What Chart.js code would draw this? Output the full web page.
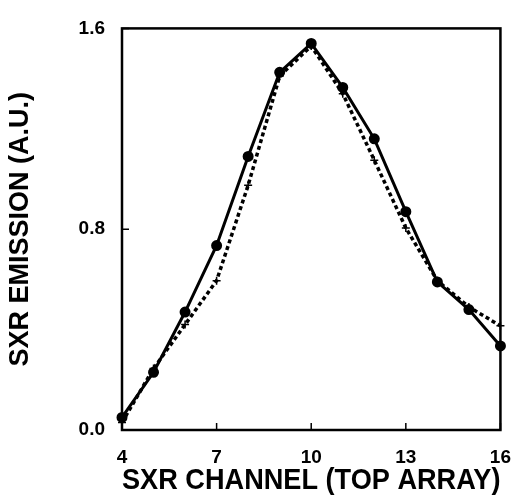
<!DOCTYPE html>
<html>
<head>
<meta charset="utf-8">
<script src="https://cdn.jsdelivr.net/npm/chart.js@4/dist/chart.umd.min.js"></script>
<style>
  html, body { margin: 0; padding: 0; background: #fff; }
  #wrap { width: 527px; height: 501px; }
</style>
</head>
<body>
<div id="wrap"><canvas id="sxr" width="527" height="501"></canvas></div>
<script>
const channels = [4, 5, 6, 7, 8, 9, 10, 11, 12, 13, 14, 15, 16];
// measured emission (solid, dots)
const measured = [0.05, 0.23, 0.47, 0.735, 1.09, 1.425, 1.54, 1.365, 1.16, 0.87, 0.59, 0.48, 0.335];
// reconstructed emission (dashed, crosses)
const fitted = [0.03, 0.245, 0.42, 0.595, 0.975, 1.41, 1.53, 1.34, 1.075, 0.805, 0.595, 0.49, 0.415];
const xTicks = [4, 7, 10, 13, 16];
const yTicks = [0.0, 0.8, 1.6];

const toPoints = vals => channels.map((c, i) => ({ x: c, y: vals[i] }));

// full box around the plot and short inward tick marks
const frame = {
  id: 'frame',
  afterDraw(chart) {
    const { ctx, chartArea: a, scales } = chart;
    ctx.save();
    ctx.strokeStyle = '#000';
    ctx.lineWidth = 2.5;
    ctx.strokeRect(a.left, a.top, a.right - a.left, a.bottom - a.top);
    ctx.lineWidth = 1.5;
    ctx.beginPath();
    xTicks.forEach(v => {
      const px = scales.x.getPixelForValue(v);
      ctx.moveTo(px, a.bottom);
      ctx.lineTo(px, a.bottom - 7);
    });
    yTicks.forEach(v => {
      const py = scales.y.getPixelForValue(v);
      ctx.moveTo(a.left, py);
      ctx.lineTo(a.left + 7, py);
    });
    ctx.stroke();
    ctx.restore();
  }
};

new Chart(document.getElementById('sxr'), {
  type: 'line',
  data: {
    datasets: [
      {
        data: toPoints(measured),
        borderColor: '#000',
        backgroundColor: '#000',
        borderWidth: 3,
        pointRadius: 4,
        pointStyle: 'circle',
        tension: 0
      },
      {
        data: toPoints(fitted),
        borderColor: '#000',
        backgroundColor: '#000',
        borderWidth: 3.5,
        borderDash: [4, 3],
        pointRadius: 4,
        pointStyle: 'cross',
        pointBorderWidth: 1.5,
        tension: 0
      }
    ]
  },
  options: {
    responsive: false,
    animation: false,
    clip: false,
    layout: { padding: { left: 0, top: 18, right: 25, bottom: 0 } },
    plugins: { legend: { display: false }, tooltip: { enabled: false } },
    scales: {
      x: {
        type: 'linear',
        min: 4,
        max: 16,
        afterBuildTicks: s => { s.ticks = xTicks.map(v => ({ value: v })); },
        afterFit: s => { s.height = 71; },
        grid: { display: false, drawTicks: false },
        border: { display: false },
        ticks: {
          padding: 16,
          color: '#000',
          font: { family: 'Liberation Sans', size: 19, weight: 'bold' }
        },
        title: {
          display: true,
          text: 'SXR CHANNEL (TOP ARRAY)',
          color: '#000',
          padding: { top: 0, bottom: 2 },
          font: { family: 'Liberation Sans', size: 30, weight: 'bold' }
        }
      },
      y: {
        min: 0,
        max: 1.6,
        afterBuildTicks: s => { s.ticks = yTicks.map(v => ({ value: v })); },
        afterFit: s => { s.width = 122; },
        grid: { display: false, drawTicks: false },
        border: { display: false },
        ticks: {
          padding: 17,
          color: '#000',
          font: { family: 'Liberation Sans', size: 19, weight: 'bold' },
          callback: v => v.toFixed(1)
        },
        title: {
          display: true,
          text: 'SXR EMISSION (A.U.)',
          color: '#000',
          padding: { top: 4, bottom: 0 },
          font: { family: 'Liberation Sans', size: 27, weight: 'bold' }
        }
      }
    }
  },
  plugins: [frame]
});
</script>
</body>
</html>
